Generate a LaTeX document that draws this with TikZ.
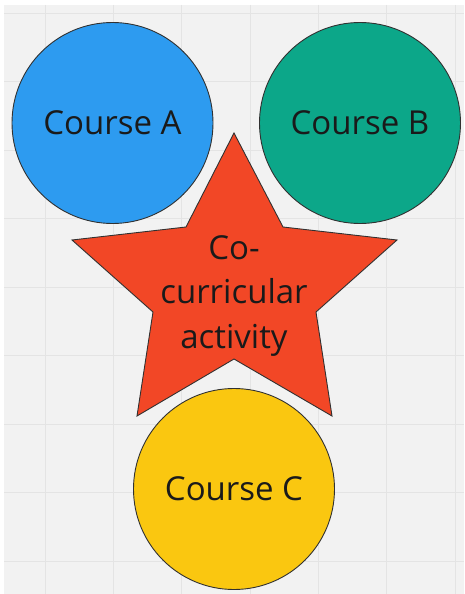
\documentclass[tikz,border=0pt]{standalone}
\usepackage{fontspec}
\setmainfont{Open Sans}
\definecolor{bgray}{HTML}{F2F2F2}
\definecolor{gridln}{HTML}{E4E4E4}
\definecolor{courseblue}{HTML}{2D9BF0}
\definecolor{coursegreen}{HTML}{0CA789}
\definecolor{courseyellow}{HTML}{FAC710}
\definecolor{actred}{HTML}{F24726}
\definecolor{inkdark}{HTML}{1A1A1A}

\begin{document}
\begin{tikzpicture}
    [
        x=1pt, y=-1pt,
        font=\fontsize{33}{44.5}\selectfont,
        course/.style ={circle, draw=inkdark!90, line width=0.9pt, inner sep=0pt,
                        minimum size=201pt, text=inkdark},
        actstar/.style={draw=inkdark!90, line width=0.9pt, fill=actred},
        acttext/.style={align=center, text=inkdark, inner sep=0pt},
        gridl/.style  ={draw=gridln, line width=0.8pt}
    ]

    % board
    \useasboundingbox (0,0) rectangle (464,594);
    \fill[white] (0,0) rectangle (464,594);
    \fill[bgray] (4,5) rectangle (464,594);
    \foreach \gx in {45,113.3,181.6,250,318.3,386.6,455}
        \draw[gridl] (\gx,5) -- (\gx,594);
    \foreach \gy in {13,81.5,150,218.5,287,355.5,424,492.5,561}
        \draw[gridl] (4,\gy) -- (464,\gy);

    \node[course, fill=courseblue]   (ca)  at (112.5,123)  {Course A};
    \node[course, fill=coursegreen]  (cb)  at (360,123)    {Course B};

    \draw[actstar] (234,133) -- (283,227) -- (397,240) -- (316,312) -- (332,416)
                   -- (234,359) -- (137,416) -- (153,312) -- (72,240) -- (186,227) -- cycle;

    \node[course, fill=courseyellow] (cc)  at (234,489)    {Course C};

    \node[acttext]                   (act) at (234,296)    {Co-\\curricular\\activity};

\end{tikzpicture}
\end{document}
